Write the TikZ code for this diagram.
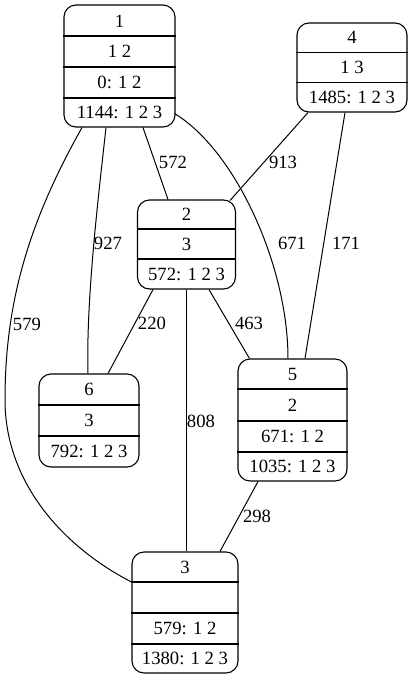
\documentclass[tikz,border=0pt]{standalone}
\usepackage{fontspec}
\setmainfont{Liberation Serif}
\usetikzlibrary{calc}
\newcommand\gvfont{\fontsize{18.67}{22}\selectfont}
\tikzset{
  rec/.style={draw, rounded corners=12pt, line width=1.1pt, inner sep=0pt},
  rowtext/.style={inner sep=0pt, font=\gvfont},
  lbl/.style={inner sep=0pt, font=\gvfont},
  edge/.style={line width=1pt},
  divider/.style={line width=1.1pt}
}
\begin{document}
\begin{tikzpicture}[x=1pt,y=-1pt]
\useasboundingbox (0,0) rectangle (411,680);
% node 1
\node[rec, minimum width=111pt, minimum height=122pt] (n1) at (119.5,66) {};
\node[rowtext] (n1a) at (119.5,21) {1};
\node[rowtext] (n1b) at (119.5,51.5) {1 2};
\node[rowtext] (n1c) at (119.5,82.5) {0: 1 2};
\node[rowtext] (n1d) at (119.5,112.5) {1144: 1 2 3};
\draw[divider] (n1.west |- 0,36) -- (n1.east |- 0,36);
\draw[divider] (n1.west |- 0,67) -- (n1.east |- 0,67);
\draw[divider] (n1.west |- 0,98) -- (n1.east |- 0,98);
% node 4
\node[rec, minimum width=110pt, minimum height=89pt] (n4) at (352,67.5) {};
\node[rowtext] (n4a) at (352,37.7) {4};
\node[rowtext] (n4b) at (352,67.3) {1 3};
\node[rowtext] (n4c) at (352,97) {1485: 1 2 3};
\draw[divider] (n4.west |- 0,52.5) -- (n4.east |- 0,52.5);
\draw[divider] (n4.west |- 0,82.3) -- (n4.east |- 0,82.3);
% node 2
\node[rec, minimum width=98pt, minimum height=89pt] (n2) at (186.5,244.5) {};
\node[rowtext] (n2a) at (186.5,214.5) {2};
\node[rowtext] (n2b) at (186.5,244) {3};
\node[rowtext] (n2c) at (186.5,274) {572: 1 2 3};
\draw[divider] (n2.west |- 0,229) -- (n2.east |- 0,229);
\draw[divider] (n2.west |- 0,259) -- (n2.east |- 0,259);
% node 6
\node[rec, minimum width=100pt, minimum height=93pt] (n6) at (89,420.5) {};
\node[rowtext] (n6a) at (89,389.5) {6};
\node[rowtext] (n6b) at (89,420.5) {3};
\node[rowtext] (n6c) at (89,451.5) {792: 1 2 3};
\draw[divider] (n6.west |- 0,405) -- (n6.east |- 0,405);
\draw[divider] (n6.west |- 0,436) -- (n6.east |- 0,436);
% node 5
\node[rec, minimum width=109pt, minimum height=122pt] (n5) at (292.5,420) {};
\node[rowtext] (n5a) at (292.5,374) {5};
\node[rowtext] (n5b) at (292.5,405) {2};
\node[rowtext] (n5c) at (292.5,436.5) {671: 1 2};
\node[rowtext] (n5d) at (292.5,466.5) {1035: 1 2 3};
\draw[divider] (n5.west |- 0,389) -- (n5.east |- 0,389);
\draw[divider] (n5.west |- 0,421) -- (n5.east |- 0,421);
\draw[divider] (n5.west |- 0,452) -- (n5.east |- 0,452);
% node 3
\node[rec, minimum width=106pt, minimum height=121pt] (n3) at (185,612.5) {};
\node[rowtext] (n3a) at (185,567) {3};
\node[rowtext] (n3c) at (185,628.5) {579: 1 2};
\node[rowtext] (n3d) at (185,658.5) {1380: 1 2 3};
\draw[divider] (n3.west |- 0,582) -- (n3.east |- 0,582);
\draw[divider] (n3.west |- 0,613) -- (n3.east |- 0,613);
\draw[divider] (n3.west |- 0,644) -- (n3.east |- 0,644);
% edges
\coordinate (c13) at (5,400);
\draw[edge] ($(n1.south)+(23.5,0)$) -- ($(n2.north)+(-18.5,0)$);
\draw[edge] ($(n1.south)+(-13.5,0)$) .. controls (98,200) and (86,300) .. ($(n6.north)+(-1,0)$);
\draw[edge] ($(n1.south)+(-37.5,0)$) .. controls (30,220) and (5,300) .. (c13) .. controls (5,480) and (60,545) .. ($(n3.west)+(0,-30.5)$);
\draw[edge] ($(n1.south east)+(-1,-14)$) .. controls (235,150) and (288,265) .. ($(n5.north)+(-4.5,0)$);
\draw[edge] ($(n4.south)+(-44,0)$) -- ($(n2.north east)+(-6,1)$);
\draw[edge] ($(n4.south)+(-7,0)$) -- ($(n5.north)+(12.5,0)$);
\draw[edge] ($(n2.south)+(-33.5,0)$) -- ($(n6.north)+(19,0)$);
\draw[edge] (n2.south) -- (n2.south |- n3.north);
\draw[edge] ($(n2.south)+(22.5,0)$) -- ($(n5.north west)+(12,0)$);
\draw[edge] ($(n5.south)+(-34.5,0)$) -- ($(n3.north)+(35,0)$);
% labels
\node[lbl] (l12) at (173,162) {572};
\node[lbl] (l16) at (108,243) {927};
\node[lbl] (l13) at (27,324) {579};
\node[lbl] (l42) at (283,162) {913};
\node[lbl] (l15) at (292,243) {671};
\node[lbl] (l45) at (346,243) {171};
\node[lbl] (l26) at (152,323) {220};
\node[lbl] (l25) at (249,323) {463};
\node[lbl] (l23) at (201,421) {808};
\node[lbl] (l53) at (257,516) {298};
\end{tikzpicture}
\end{document}
